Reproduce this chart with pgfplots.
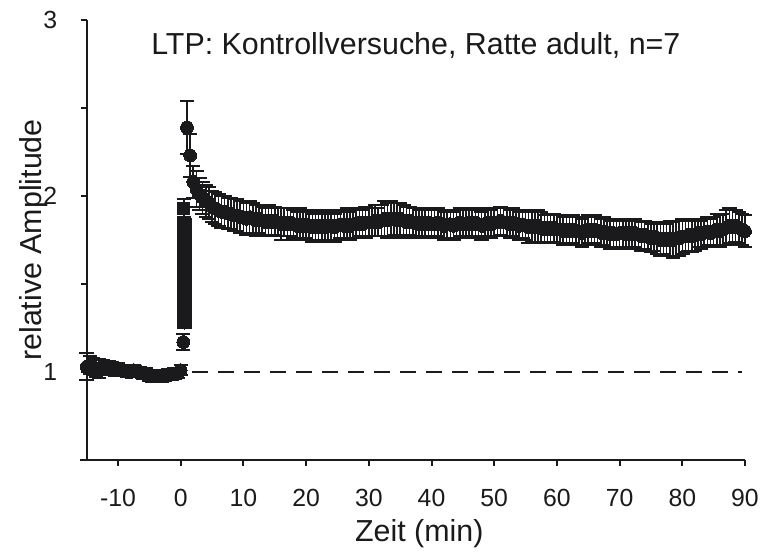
\documentclass[border=0pt]{standalone}
\usepackage{pgfplots}
\pgfplotsset{compat=1.18}
\usepackage{pgfplotstable}
\usepackage{fontspec}
\setmainfont{Liberation Sans}
\definecolor{ink}{RGB}{26,26,28}

\pgfplotstableread{
x y e
-15 1.03 0.075
-14.5 1.04 0.05
-14 1.03 0.05
-13.5 1.02 0.05
-13 1.02 0.055
-12.5 1.03 0.04
-12 1.02 0.04
-11.5 1.02 0.04
-11 1.02 0.035
-10.5 1.01 0.035
-10 1.02 0.03
-9.5 1.01 0.03
-9 1.01 0.03
-8.5 1.00 0.03
-8 1.00 0.03
-7.5 1.01 0.03
-7 1.00 0.03
-6.5 1.00 0.03
-6 0.99 0.03
-5.5 0.99 0.03
-5 0.98 0.03
-4.5 0.975 0.03
-4 0.98 0.03
-3.5 0.98 0.03
-3 0.975 0.03
-2.5 0.98 0.03
-2 0.985 0.03
-1.5 0.985 0.03
-1 0.99 0.03
-0.5 0.995 0.03
0 1.01 0.03
}\baseline

\pgfplotstableread{
x y e
0.4 1.17 0.045
0.6 1.28 0.03
0.6 1.29 0.03
0.6 1.30 0.03
0.6 1.31 0.03
0.6 1.32 0.03
0.6 1.33 0.03
0.6 1.34 0.03
0.6 1.35 0.03
0.6 1.36 0.03
0.6 1.37 0.03
0.6 1.38 0.03
0.6 1.39 0.03
0.6 1.40 0.03
0.6 1.41 0.03
0.6 1.42 0.03
0.6 1.43 0.03
0.6 1.44 0.03
0.6 1.45 0.03
0.6 1.46 0.03
0.6 1.47 0.03
0.6 1.48 0.03
0.6 1.49 0.03
0.6 1.50 0.03
0.6 1.51 0.03
0.6 1.52 0.03
0.6 1.53 0.03
0.6 1.54 0.03
0.6 1.55 0.03
0.6 1.56 0.03
0.6 1.57 0.03
0.6 1.58 0.03
0.6 1.59 0.03
0.6 1.60 0.03
0.6 1.61 0.03
0.6 1.62 0.03
0.6 1.63 0.03
0.6 1.64 0.03
0.6 1.65 0.03
0.6 1.66 0.03
0.6 1.67 0.03
0.6 1.68 0.03
0.6 1.69 0.03
0.6 1.70 0.03
0.6 1.71 0.03
0.6 1.72 0.03
0.6 1.73 0.03
0.6 1.74 0.03
0.6 1.75 0.03
0.6 1.76 0.03
0.6 1.77 0.03
0.6 1.78 0.03
0.6 1.79 0.03
0.6 1.80 0.03
0.6 1.81 0.03
0.6 1.82 0.03
0.6 1.83 0.03
0.6 1.84 0.03
}\tetanus

\pgfplotstableread{
x y e
0.5 1.93 0.05
}\marker

\pgfplotstableread{
x y e
1.0 2.39 0.15
1.5 2.23 0.12
2.0 2.08 0.09
2.5 2.04 0.10
3.0 2.01 0.09
3.5 1.99 0.09
4.0 1.97 0.09
4.5 1.96 0.09
5.0 1.94 0.09
5.5 1.93 0.09
6 1.92 .09
6.5 1.91 .09
7 1.91 .09
7.5 1.90 .09
8 1.90 .09
8.5 1.89 .09
9 1.89 .09
9.5 1.88 .09
10 1.88 .09
10.5 1.87 .09
11 1.88 .09
11.5 1.87 .09
12 1.86 .09
12.5 1.87 .08
13 1.86 .08
13.5 1.85 .08
14 1.86 .09
14.5 1.85 .08
15 1.86 .08
15.5 1.85 .08
16 1.84 .09
16.5 1.85 .08
17 1.84 .09
17.5 1.85 .08
18 1.84 .08
18.5 1.83 .08
19 1.84 .09
19.5 1.83 .08
20 1.84 .08
20.5 1.83 .08
21 1.82 .08
21.5 1.83 .09
22 1.82 .08
22.5 1.83 .08
23 1.82 .08
23.5 1.83 .09
24 1.83 .08
24.5 1.82 .08
25 1.83 .08
25.5 1.84 .08
26 1.83 .08
26.5 1.84 .09
27 1.83 .08
27.5 1.84 .08
28 1.84 .08
28.5 1.85 .08
29 1.84 .08
29.5 1.85 .09
30 1.85 .08
30.5 1.85 .08
31 1.86 .09
31.5 1.85 .08
32 1.86 .09
32.5 1.87 .10
33 1.86 .10
33.5 1.87 .10
34 1.87 .09
34.5 1.86 .10
35 1.87 .09
35.5 1.86 .09
36 1.85 .09
36.5 1.86 .08
37 1.85 .08
37.5 1.85 .08
38 1.84 .08
38.5 1.85 .08
39 1.84 .08
39.5 1.85 .08
40 1.84 .08
40.5 1.84 .08
41 1.85 .08
41.5 1.84 .08
42 1.83 .08
42.5 1.84 .08
43 1.84 .08
43.5 1.83 .08
44 1.84 .08
44.5 1.85 .08
45 1.84 .08
45.5 1.84 .08
46 1.85 .08
46.5 1.84 .08
47 1.85 .08
47.5 1.84 .08
48 1.83 .08
48.5 1.84 .08
49 1.85 .08
49.5 1.84 .08
50 1.85 .08
50.5 1.85 .08
51 1.86 .08
51.5 1.85 .08
52 1.85 .08
52.5 1.84 .08
53 1.85 .08
53.5 1.84 .08
54 1.83 .08
54.5 1.84 .08
55 1.83 .08
55.5 1.82 .09
56 1.83 .09
56.5 1.82 .09
57 1.83 .09
57.5 1.82 .09
58 1.81 .08
58.5 1.82 .08
59 1.81 .08
59.5 1.82 .08
60 1.81 .08
60.5 1.81 .08
61 1.80 .08
61.5 1.81 .08
62 1.80 .08
62.5 1.81 .08
63 1.80 .08
63.5 1.80 .08
64 1.79 .08
64.5 1.80 .08
65 1.81 .08
65.5 1.80 .08
66 1.81 .08
66.5 1.80 .08
67 1.79 .08
67.5 1.80 .08
68 1.79 .08
68.5 1.78 .08
69 1.79 .08
69.5 1.78 .08
70 1.79 .08
70.5 1.79 .08
71 1.78 .08
71.5 1.79 .08
72 1.78 .08
72.5 1.79 .08
73 1.78 .08
73.5 1.77 .08
74 1.78 .08
74.5 1.77 .08
75 1.76 .08
75.5 1.77 .08
76 1.76 .09
76.5 1.75 .09
77 1.76 .09
77.5 1.75 .09
78 1.76 .10
78.5 1.75 .10
79 1.76 .10
79.5 1.76 .10
80 1.77 .10
80.5 1.77 .09
81 1.78 .09
81.5 1.77 .09
82 1.78 .09
82.5 1.79 .08
83 1.78 .08
83.5 1.79 .08
84 1.80 .08
84.5 1.79 .08
85 1.80 .08
85.5 1.81 .09
86 1.80 .09
86.5 1.81 .09
87 1.82 .10
87.5 1.83 .10
88 1.82 .10
88.5 1.83 .09
89 1.82 .09
89.5 1.81 .09
90 1.80 .09
}\post

\pgfplotsset{
  my err/.style={
    ink, only marks,
    error bars/y dir=both,
    error bars/y explicit,
    error bars/error bar style={line width=0.8pt, ink},
    error bars/error mark options={rotate=90, mark size=3.6pt, line width=1pt, ink}},
  dot/.style={mark=*, mark size=3.2pt, mark options={fill=ink, draw=ink, line width=0pt}},
}

\begin{document}
\begin{tikzpicture}
\begin{axis}[
  scale only axis,
  width=329.2pt, height=220pt,
  xmin=-15, xmax=90, ymin=0.5, ymax=3,
  clip=false,
  axis x line*=bottom, axis y line*=left,
  axis line style={line width=1pt, ink},
  every tick/.style={line width=1pt, ink},
  tick align=outside,
  major tick length=3pt, minor tick length=3pt,
  xtick={-10,0,10,20,30,40,50,60,70,80,90},
  ytick={1,2,3}, minor ytick={1.5,2.5},
  /pgf/number format/assume math mode=true,
  tick label style={font=\fontsize{12.4}{14}\selectfont, text=ink},
  xticklabel style={yshift=-8.2pt},
  yticklabel style={xshift=-8.2pt},
  label style={font=\fontsize{15.2}{18}\selectfont, text=ink},
  xlabel={Zeit (min)},
  xlabel style={at={([yshift=-40.85pt,xshift=1.7pt]rel axis cs:0.5,0)}, anchor=base},
  ylabel={relative Amplitude},
  ylabel style={at={([xshift=-22.5pt]rel axis cs:0,0.5)}, anchor=base},
  title={LTP: Kontrollversuche, Ratte adult, n=7},
  title style={at={([yshift=-23.35pt]rel axis cs:0.5,1)}, anchor=base, font=\fontsize{15.2}{18}\selectfont, text=ink},
]
\addplot[ink, line width=0.8pt, dash pattern=on 8pt off 5pt] coordinates {(1.8,1) (89.5,1)};
\addplot[my err, dot] table[x=x, y=y, y error=e] {\baseline};
\addplot[my err, dot] table[x=x, y=y, y error=e] {\tetanus};
\addplot[my err, mark=square*, mark size=3pt, mark options={fill=ink, draw=ink, line width=0pt}] table[x=x, y=y, y error=e] {\marker};
\addplot[my err, dot] table[x=x, y=y, y error=e] {\post};
\draw[line width=1pt, ink] (axis cs:-16.1,0.5) -- (axis cs:-15,0.5);
\path[draw=none] ([xshift=-43.35pt, yshift=-45pt]rel axis cs:0,0) rectangle ([xshift=10.5pt, yshift=10pt]rel axis cs:1,1);
\end{axis}
\end{tikzpicture}
\end{document}
